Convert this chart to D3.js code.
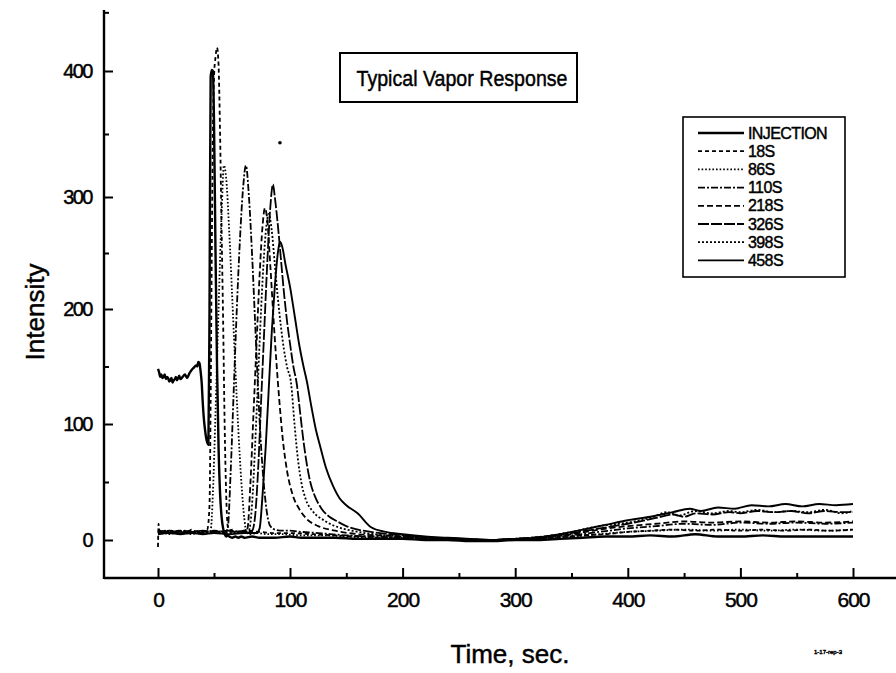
<!DOCTYPE html>
<html>
<head>
<meta charset="utf-8">
<script src="https://cdn.jsdelivr.net/npm/d3@7"></script>
<style>
  html, body { margin: 0; padding: 0; background: #fff; }
  svg { display: block; }
  text { font-family: "Liberation Sans", Arial, sans-serif; fill: #000; stroke: #000; stroke-width: 0.45; }
</style>
</head>
<body>
<svg id="chart" width="896" height="673"></svg>
<script>
// ---------------- data (time in s, intensity) ----------------
const seriesNames = ["INJECTION", "18S", "86S", "110S", "218S", "326S", "398S", "458S"];

const injection = [[0,148],[1,145],[2,141],[3,143],[4,140],[5,141],[6,143],[7,139],[8,141],[9,140],[10,137],[11,138],[12,140],[13,136],[14,138],[15,139],[16,141],[17,138],[18,140],[19,142],[20,139],[22,141],[24,143],[26,140],[28,144],[30,147],[32,149],[34,151],[35,150],[36,154],[37,153],[38,146],[39,136],[40,118],[41,104],[42,95],[43,88],[44,84],[45,82],[46,200],[47,395],[48,401],[49,400],[50,360],[51,250],[52,150],[53,80],[54,40],[55,20],[56,10],[57,5],[58,3],[59,4],[60,3],[62,2],[64,3],[66,2],[68,3],[70,2],[75,3],[80,2],[90,2],[100,3],[110,2],[120,2],[140,2],[160,1],[180,1],[200,1],[220,0],[240,0],[260,-1],[280,-1],[300,0],[320,0],[340,1],[360,2],[380,3],[400,3],[420,4],[440,3],[460,5],[480,3],[500,3],[520,4],[540,3],[560,3],[580,3],[600,3]];

const s18 = [[0,-6],[0.5,14],[1,9],[3,7],[6,8],[9,6],[12,8],[15,7],[18,8],[21,6],[24,8],[27,7],[30,9],[33,7],[36,8],[39,7],[42,8],[44,9],[46,30],[47,120],[48,250],[49,350],[50,395],[51,412],[52,420],[53,405],[54,350],[55,270],[56,190],[57,100],[58,40],[59,12],[60,8],[62,9],[65,7],[70,8],[80,7],[90,6],[100,6],[120,5],[140,4],[160,3],[180,2],[200,2],[220,1],[240,0],[260,0],[280,0],[300,1],[320,1],[340,2],[360,4],[380,5],[400,7],[420,8],[440,9],[460,8],[480,9],[500,8],[520,9],[540,8],[560,9],[580,8],[600,9]];

const s86 = [[0,5],[5,6],[10,5],[15,6],[20,5],[25,6],[30,5],[35,6],[40,5],[45,6],[47,8],[49,40],[51,110],[53,200],[55,285],[56.5,325],[58,315],[60,270],[62,210],[64,150],[66,95],[68,50],[70,18],[71.5,6],[74,5],[78,6],[85,5],[95,5],[110,4],[130,4],[150,3],[175,2],[200,2],[225,1],[250,0],[275,0],[300,0],[325,1],[350,3],[375,5],[400,7],[425,8],[450,9],[475,8],[500,9],[525,8],[550,9],[575,8],[600,9]];

const s110 = [[0,6],[10,7],[20,6],[30,7],[40,6],[50,7],[57,6],[59,10],[61,60],[63,130],[65,200],[67,260],[69,305],[71,325],[73,300],[75,250],[77,190],[79,130],[81,80],[83,45],[85,22],[87,12],[90,9],[95,8],[100,8],[110,7],[125,6],[150,4],[175,3],[200,2],[225,1],[250,1],[275,0],[300,0],[325,2],[350,4],[375,7],[400,10],[425,12],[450,14],[475,13],[500,15],[525,14],[550,15],[575,14],[600,15]];

const s218 = [[0,7],[10,8],[20,7],[30,8],[40,7],[50,8],[60,7],[70,8],[72,10],[74,50],[76,110],[78,170],[80,230],[82,275],[83.5,290],[85,280],[87,240],[89,195],[91,155],[93,120],[95,90],[98,60],[102,40],[108,27],[115,18],[125,12],[140,8],[160,5],[180,4],[200,3],[225,2],[250,1],[275,0],[300,1],[325,2],[350,5],[375,9],[400,12],[425,14],[450,16],[475,15],[500,16],[525,15],[550,16],[575,15],[600,16]];

const s326 = [[0,8],[10,7],[20,8],[30,7],[40,8],[50,7],[60,8],[70,7],[75,8],[77,20],[79,60],[81,120],[83,180],[85,240],[87,290],[88.8,310],[90,300],[92,275],[94,245],[96,215],[98,190],[100,170],[103,150],[106,135],[109,110],[112,85],[115,65],[118,50],[122,38],[128,27],[135,20],[142,16],[150,12],[165,8],[180,6],[200,4],[225,2],[250,1],[275,0],[300,1],[325,3],[350,6],[375,10],[400,14],[425,19],[440,22],[450,20],[460,23],[475,22],[490,24],[500,23],[515,25],[530,24],[545,25],[560,23],[575,25],[590,24],[600,24]];

const s398 = [[0,6],[10,7],[20,6],[30,7],[40,6],[50,7],[60,6],[70,7],[73,8],[75,30],[77,80],[79,140],[81,200],[83,250],[85,280],[86,285],[88,270],[90,240],[92,210],[94,185],[96,165],[98,150],[101,135],[104,100],[107,70],[110,50],[114,35],[120,25],[130,17],[140,12],[155,8],[175,5],[200,3],[225,2],[250,1],[275,0],[300,1],[325,3],[350,7],[375,12],[400,15],[420,19],[435,24],[445,21],[460,25],[475,23],[490,25],[500,24],[515,26],[530,24],[545,25],[560,24],[575,26],[590,23],[600,25]];

const s458 = [[0,5],[10,6],[20,5],[30,6],[40,5],[50,6],[60,5],[70,6],[78,6],[80,10],[82,40],[84,80],[86,130],[88,180],[90,220],[92,250],[93.4,260],[95,255],[97,240],[100,220],[104,195],[108,170],[112,150],[115,137],[119,115],[123,95],[127,80],[132,62],[138,47],[144,36],[150,30],[160,23],[172,11],[185,7],[200,5],[220,3],[240,2],[260,1],[280,0],[300,1],[320,2],[340,5],[360,9],[380,13],[400,17],[420,20],[440,24],[455,27],[465,25],[480,28],[495,27],[510,30],[525,29],[540,31],[555,29],[570,31],[585,30],[600,31]];

const strayPoints = [[93.4, 343]];

const xTickValues = [0, 100, 200, 300, 400, 500, 600];
const xMinorTicks = [50, 150, 250, 350, 450, 550];
const yTickValues = [0, 100, 200, 300, 400];
const yMinorTicks = [50, 150, 250, 350, 450];

const titleText = "Typical Vapor Response";
const xLabel = "Time, sec.";
const yLabel = "Intensity";
const noteText = "1-17-rep-3";

// ---------------- drawing ----------------
const allSeries = [injection, s18, s86, s110, s218, s326, s398, s458];
const dashes = [null, "4,3", "1.6,2", "7,2,2,2", "6,3", "11,2", "2,2", null];
const widths = [2.4, 1.8, 1.8, 1.8, 1.8, 1.8, 1.8, 1.9];

const svg = d3.select("#chart");

// scales (the scanned original axis is slightly uneven; piecewise-linear to follow its ticks)
const x = d3.scaleLinear().domain([0, 50, 100, 600]).range([158, 214, 290, 853]);
const y = d3.scaleLinear().domain([-33, 0, 100, 200, 300, 400, 452]).range([578, 540, 424, 309, 197, 71, 10]);

const axisX0 = 104, axisY0 = 578;

// axis lines
svg.append("line").attr("x1", axisX0).attr("x2", 896).attr("y1", axisY0).attr("y2", axisY0)
  .attr("stroke", "#000").attr("stroke-width", 2.4);
svg.append("line").attr("x1", axisX0).attr("x2", axisX0).attr("y1", 10).attr("y2", axisY0 + 1)
  .attr("stroke", "#000").attr("stroke-width", 2.4);

// x axis ticks
const gx = svg.append("g").attr("transform", `translate(0,${axisY0})`)
  .call(d3.axisBottom(x).tickValues(xTickValues).tickSize(-10).tickPadding(14).tickFormat(d3.format("d")));
gx.select(".domain").remove();
gx.selectAll(".tick line").attr("stroke", "#000").attr("stroke-width", 2);
gx.selectAll(".tick text").attr("font-size", 21).attr("letter-spacing", -1)
  .attr("font-family", "Liberation Sans, Arial, sans-serif").attr("fill", "#000");

const gxm = svg.append("g").attr("transform", `translate(0,${axisY0})`)
  .call(d3.axisBottom(x).tickValues(xMinorTicks).tickSize(-5).tickFormat(""));
gxm.select(".domain").remove();
gxm.selectAll(".tick line").attr("stroke", "#000").attr("stroke-width", 2);

// y axis ticks
const gy = svg.append("g").attr("transform", `translate(${axisX0},0)`)
  .call(d3.axisLeft(y).tickValues(yTickValues).tickSize(-9).tickPadding(12).tickFormat(d3.format("d")));
gy.select(".domain").remove();
gy.selectAll(".tick line").attr("stroke", "#000").attr("stroke-width", 2);
gy.selectAll(".tick text").attr("font-size", 20).attr("letter-spacing", -1.5)
  .attr("font-family", "Liberation Sans, Arial, sans-serif").attr("fill", "#000");

const gym = svg.append("g").attr("transform", `translate(${axisX0},0)`)
  .call(d3.axisLeft(y).tickValues(yMinorTicks).tickSize(-5).tickFormat(""));
gym.select(".domain").remove();
gym.selectAll(".tick line").attr("stroke", "#000").attr("stroke-width", 2);

// axis labels
svg.append("text").attr("x", 510).attr("y", 663).attr("text-anchor", "middle")
  .attr("font-size", 26).attr("stroke-width", 0.3).text(xLabel);
svg.append("text").attr("transform", "translate(44,312) rotate(-90)").attr("text-anchor", "middle")
  .attr("font-size", 26).attr("stroke-width", 0.3).text(yLabel);
svg.append("text").attr("x", 828).attr("y", 654).attr("text-anchor", "middle")
  .attr("font-size", 6).attr("stroke-width", 0.2).text(noteText);

// lines
const line = d3.line().x(d => x(d[0])).y(d => y(d[1])).curve(d3.curveMonotoneX);
const gLines = svg.append("g");
allSeries.forEach((data, i) => {
  gLines.append("path").datum(data)
    .attr("d", line)
    .attr("fill", "none")
    .attr("stroke", "#000")
    .attr("stroke-width", widths[i])
    .attr("stroke-linejoin", "round")
    .attr("stroke-dasharray", dashes[i]);
});
svg.append("g").selectAll("circle").data(strayPoints).join("circle")
  .attr("cx", d => x(d[0])).attr("cy", d => y(d[1])).attr("r", 1.8).attr("fill", "#000");

// title box
svg.append("rect").attr("x", 340).attr("y", 53).attr("width", 237).attr("height", 49)
  .attr("fill", "#fff").attr("stroke", "#000").attr("stroke-width", 2);
svg.append("text").attr("x", 462).attr("y", 86).attr("text-anchor", "middle")
  .attr("font-size", 22).attr("textLength", 211).attr("lengthAdjust", "spacingAndGlyphs")
  .text(titleText);

// legend
const lgX = 683, lgY = 117, lgW = 162, lgH = 160;
svg.append("rect").attr("x", lgX).attr("y", lgY).attr("width", lgW).attr("height", lgH)
  .attr("fill", "#fff").attr("stroke", "#000").attr("stroke-width", 1.6);
const lg = svg.append("g");
seriesNames.forEach((name, i) => {
  const yy = 133 + i * 18.2;
  lg.append("line").attr("x1", 698).attr("x2", 744).attr("y1", yy).attr("y2", yy)
    .attr("stroke", "#000").attr("stroke-width", i === 0 ? 2.4 : 1.8)
    .attr("stroke-dasharray", dashes[i]);
  lg.append("text").attr("x", 748).attr("y", yy).attr("dominant-baseline", "central")
    .attr("font-size", 16).attr("letter-spacing", -0.6).attr("stroke-width", 0.35).text(name);
});
</script>
</body>
</html>
